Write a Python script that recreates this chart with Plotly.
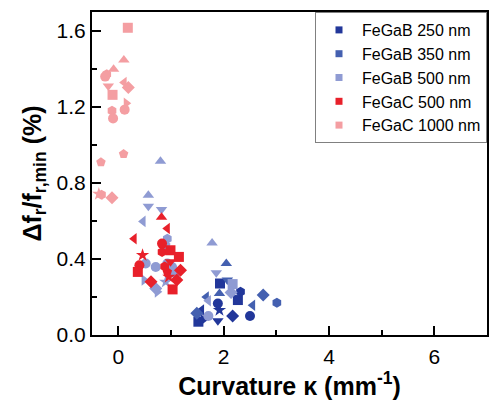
import plotly.graph_objects as go

# ---- data ----
series_names = ["FeGaB 250 nm", "FeGaB 350 nm", "FeGaB 500 nm", "FeGaC 500 nm", "FeGaC 1000 nm"]
series_colors = ["#22379a", "#4460b0", "#8f9bd3", "#e8202a", "#f49ea2"]

b250_x = [1.93, 2.27, 2.17, 2.50, 1.58, 1.52, 1.89, 1.61, 1.92, 1.89, 2.32]
b250_y = [0.271, 0.184, 0.100, 0.100, 0.131, 0.070, 0.075, 0.080, 0.131, 0.166, 0.227]
b250_s = ["square", "square", "diamond", "circle", "triangle-left", "square", "triangle-down",
          "triangle-right", "star", "circle", "hexagon"]

b350_x = [2.05, 2.07, 2.75, 3.01, 2.55, 1.67, 1.92, 1.49]
b350_y = [0.376, 0.289, 0.210, 0.170, 0.157, 0.200, 0.219, 0.115]
b350_s = ["triangle-up", "triangle-down", "diamond", "hexagon", "triangle-left", "triangle-left",
          "triangle-up", "diamond"]

b500_x = [0.80, 0.57, 0.57, 0.82, 0.47, 0.52, 0.71, 0.93, 0.49, 0.71, 0.74, 0.90, 1.08,
          0.93, 0.90, 1.02, 1.78, 1.86, 2.17, 2.14, 1.71, 1.71]
b500_y = [0.915, 0.735, 0.678, 0.660, 0.598, 0.376, 0.358, 0.376, 0.289, 0.245, 0.227, 0.280,
          0.324, 0.507, 0.472, 0.358, 0.484, 0.327, 0.268, 0.224, 0.180, 0.100]
b500_s = ["triangle-up", "triangle-up", "triangle-down", "triangle-down", "triangle-left",
          "circle", "circle", "circle", "triangle-right", "diamond", "triangle-right", "star",
          "diamond", "hexagon", "pentagon", "circle", "triangle-up", "triangle-down", "square",
          "diamond", "triangle-left", "circle"]

c500_x = [0.82, 0.93, 0.30, 0.83, 0.83, 0.99, 1.15, 0.46, 0.40, 0.37, 0.93, 0.96, 1.18,
          1.11, 0.62, 1.03, 0.99, 0.88]
c500_y = [0.620, 0.560, 0.507, 0.481, 0.437, 0.446, 0.411, 0.420, 0.367, 0.332, 0.332, 0.306,
          0.341, 0.289, 0.280, 0.240, 0.385, 0.360]
c500_s = ["triangle-up", "triangle-left", "triangle-left", "circle", "hexagon", "square",
          "square", "star", "circle", "square", "pentagon", "star", "diamond", "diamond",
          "diamond", "square", "triangle-down", "hexagon"]

c1000_x = [0.18, 0.105, -0.22, -0.09, -0.25, -0.19, -0.11, 0.11, 0.19, -0.12, -0.10, 0.12,
           0.15, 0.10, -0.33, -0.32, -0.37, -0.12]
c1000_y = [1.617, 1.447, 1.373, 1.399, 1.360, 1.310, 1.264, 1.329, 1.303, 1.180, 1.140, 1.186,
           1.220, 0.953, 0.909, 0.738, 0.742, 0.722]
c1000_s = ["square", "triangle-up", "hexagon", "triangle-up", "circle", "triangle-down", "square",
           "triangle-left", "diamond", "hexagon", "circle", "circle", "triangle-right",
           "pentagon", "pentagon", "hexagon", "star", "diamond"]

x_ticks = [0, 2, 4, 6]
y_ticks = [0.0, 0.4, 0.8, 1.2, 1.6]

all_x = [b250_x, b350_x, b500_x, c500_x, c1000_x]
all_y = [b250_y, b350_y, b500_y, c500_y, c1000_y]
all_s = [b250_s, b350_s, b500_s, c500_s, c1000_s]

FONT = "Arial, Liberation Sans, sans-serif"

fig = go.Figure()
for name, col, xs, ys, ss in zip(series_names, series_colors, all_x, all_y, all_s):
    fig.add_trace(go.Scatter(
        x=xs, y=ys, mode="markers", name=name, showlegend=False,
        marker=dict(color=col, size=10, symbol=ss, line=dict(width=0)),
    ))
# legend entries (small squares, as in the reference)
for name, col in zip(series_names, series_colors):
    fig.add_trace(go.Scatter(
        x=[None], y=[None], mode="markers", name=name,
        marker=dict(color=col, size=7, symbol="square"),
    ))

fig.update_layout(
    width=491, height=401,
    margin=dict(l=92, r=2, t=12, b=66),
    paper_bgcolor="white", plot_bgcolor="white",
    font=dict(family=FONT, color="black"),
    legend=dict(
        x=1.0, y=1.0, xanchor="right", yanchor="top",
        bordercolor="#808080", borderwidth=1, bgcolor="white",
        font=dict(size=16, family=FONT, color="black"),
        tracegroupgap=0, itemwidth=36,
    ),
    xaxis=dict(
        range=[-0.5, 7.0], tickvals=x_ticks, ticks="inside", ticklen=9, tickwidth=1.5,
        tickcolor="black", showline=True, linewidth=2, linecolor="black", mirror=True,
        showgrid=False, zeroline=False, tickfont=dict(size=21, family=FONT),
        ticklabelstandoff=2,
        minor=dict(dtick=1, ticks="inside", ticklen=5, tickwidth=1.5, tickcolor="black", showgrid=False),
        title=dict(text="<b>Curvature κ (mm<sup>-1</sup>)</b>", font=dict(size=25, family=FONT), standoff=4),
    ),
    yaxis=dict(
        range=[0, 1.7], tickvals=y_ticks, tickformat=".1f", ticks="inside", ticklen=9,
        tickwidth=1.5, tickcolor="black", showline=True, linewidth=2, linecolor="black",
        mirror=True, showgrid=False, zeroline=False, tickfont=dict(size=21, family=FONT),
        ticklabelstandoff=0,
        minor=dict(dtick=0.2, ticks="inside", ticklen=5, tickwidth=1.5, tickcolor="black", showgrid=False),
        title=dict(text="<b>Δf<sub>r</sub>/f<sub>r,min</sub> (%)</b>", font=dict(size=25, family=FONT), standoff=8),
    ),
)

fig.write_html("out.html", config={"displayModeBar": False},
               post_script="document.body.style.margin='0';")
